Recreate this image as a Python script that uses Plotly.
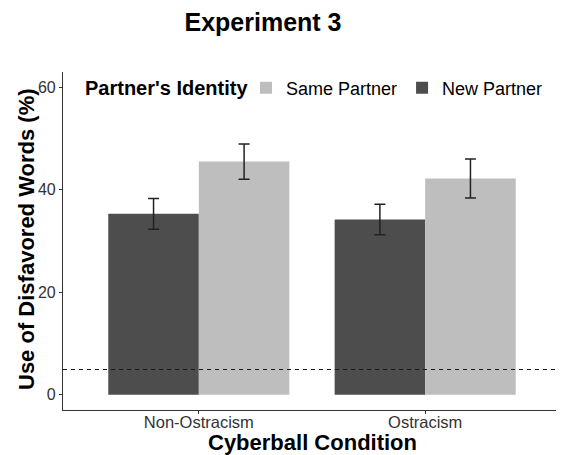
import plotly.graph_objects as go

categories = ["Non-Ostracism", "Ostracism"]
new_partner = [35.3, 34.2]
new_partner_se = [3.0, 3.0]
same_partner = [45.5, 42.2]
same_partner_se = [3.45, 3.8]
baseline = 4.9
y_ticks = [0, 20, 40, 60]

FONT = "Liberation Sans, Arial, sans-serif"
# page body has an 8px default margin: figure is sized/positioned accordingly
OFF = 8
W, H = 564 - OFF, 455 - OFF
L, R, T, B = 63 - OFF, 3, 72 - OFF, 45
PW, PH = W - L - R, H - T - B

def px_x(px):
    return (px - OFF - L) / PW

def px_y(py):
    return (H - B - (py - OFF)) / PH

fig = go.Figure()
fig.add_trace(go.Bar(
    x=categories, y=new_partner, name="New Partner",
    marker=dict(color="#4d4d4d", line=dict(width=0)),
    error_y=dict(type="data", array=new_partner_se, visible=True,
                 color="#222222", thickness=1.5, width=5.5),
    legendrank=2,
))
fig.add_trace(go.Bar(
    x=categories, y=same_partner, name="Same Partner",
    marker=dict(color="#bebebe", line=dict(width=0)),
    error_y=dict(type="data", array=same_partner_se, visible=True,
                 color="#222222", thickness=1.5, width=5.5),
    legendrank=1,
))

fig.add_shape(type="line", xref="paper", x0=0, x1=1, yref="y", y0=baseline, y1=baseline,
              line=dict(color="#1a1a1a", width=1.1, dash="4px,4px"))

annotations = [
    dict(text="<b>Partner's Identity</b>", xref="paper", yref="paper",
         x=px_x(83), y=px_y(88), xanchor="left", yanchor="middle", showarrow=False,
         font=dict(size=20, family=FONT, color="#000000")),
    dict(text="<b>Cyberball Condition</b>", xref="paper", yref="paper",
         x=px_x(312), y=px_y(442), xanchor="center", yanchor="middle", showarrow=False,
         font=dict(size=22, family=FONT, color="#000000")),
    dict(text="<b>Use of Disfavored Words (%)</b>", xref="paper", yref="paper",
         x=px_x(26), y=px_y(239), xanchor="center", yanchor="middle", showarrow=False,
         textangle=-90, font=dict(size=22, family=FONT, color="#000000")),
]

fig.update_layout(
    width=W, height=H,
    margin=dict(l=L, r=R, t=T, b=B),
    paper_bgcolor="white", plot_bgcolor="white",
    barmode="group", bargap=0.2, bargroupgap=0,
    font=dict(family=FONT, color="#000000"),
    title=dict(text="<b>Experiment 3</b>", x=(263 - OFF) / W, xanchor="center",
               y=1 - (22 - OFF) / H, yanchor="middle", xref="container", yref="container",
               font=dict(size=25, family=FONT, color="#000000")),
    showlegend=True,
    legend=dict(orientation="h", x=px_x(246), xanchor="left", y=px_y(88), yanchor="middle",
                bgcolor="rgba(0,0,0,0)",
                font=dict(size=18, family=FONT, color="#000000"),
                itemwidth=30),
    annotations=annotations,
    xaxis=dict(type="category", range=[-0.6, 1.6], showgrid=False, zeroline=False,
               showline=True, linecolor="#333333", linewidth=1.2,
               ticks="outside", ticklen=3, tickcolor="#333333", automargin=False,
               ticklabelstandoff=-6,
               tickfont=dict(size=16.5, color="#333333", family=FONT)),
    yaxis=dict(range=[-3, 63], tickvals=y_ticks, showgrid=False, zeroline=False,
               showline=True, linecolor="#333333", linewidth=1.2,
               ticks="outside", ticklen=3, tickcolor="#333333", automargin=False,
               tickfont=dict(size=16, color="#333333", family=FONT)),
)

fig.write_html("out.html")
